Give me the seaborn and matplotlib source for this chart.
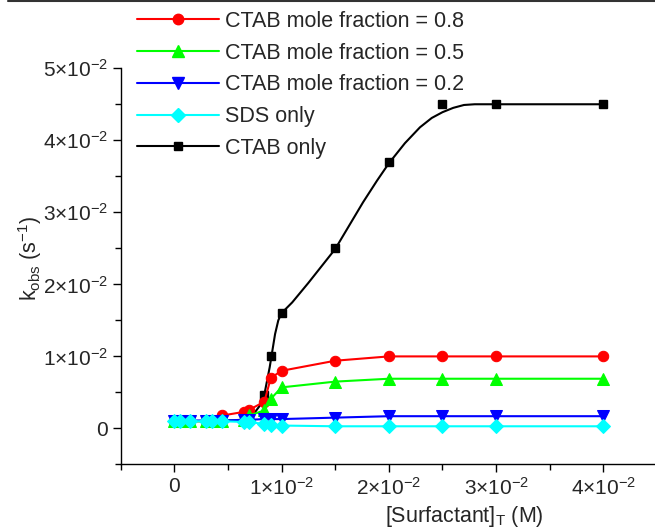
import numpy as np
import pandas as pd
import matplotlib
matplotlib.use('Agg')
import matplotlib.pyplot as plt
import seaborn as sns
from matplotlib.lines import Line2D
from matplotlib.ticker import MultipleLocator, FixedLocator

sns.set_style('ticks')
plt.rcParams['font.family'] = ['Liberation Sans', 'DejaVu Sans']
plt.rcParams['mathtext.default'] = 'regular'

# data
x_pts = [0, 0.0005, 0.0015, 0.003, 0.0035, 0.0045, 0.0065, 0.007,
         0.0084, 0.009, 0.01, 0.015, 0.02, 0.025, 0.03, 0.04]
y_08 = [0.0010, 0.0010, 0.0010, 0.0010, 0.0011, 0.0018, 0.0023, 0.0026,
        0.0037, 0.0070, 0.0080, 0.0094, 0.0100, 0.0100, 0.0100, 0.0100]
y_05 = [0.0010, 0.0010, 0.0010, 0.0010, 0.0010, 0.0011, 0.0012, 0.0018,
        0.0025, 0.0041, 0.0057, 0.0065, 0.0069, 0.0069, 0.0069, 0.0069]
y_02 = [0.0011, 0.0011, 0.0011, 0.0011, 0.0011, 0.0011, 0.0012, 0.0012,
        0.0013, 0.0013, 0.0013, 0.0015, 0.0017, 0.0017, 0.0017, 0.0017]
y_sds = [0.0010, 0.0010, 0.0010, 0.0010, 0.0010, 0.0010, 0.0009, 0.0009,
         0.0006, 0.0005, 0.0004, 0.0003, 0.0003, 0.0003, 0.0003, 0.0003]
y_ctab = [0.0010, 0.0010, 0.0010, 0.0010, 0.0010, 0.0010, 0.0012, 0.0015,
          0.0047, 0.0100, 0.0160, 0.0250, 0.0370, 0.0451, 0.0450, 0.0450]

# fitted curve for CTAB only
x_fit = [0, 0.0065, 0.0072, 0.0080, 0.0084, 0.0089, 0.0094, 0.0097, 0.0100,
         0.0104, 0.0110, 0.0125, 0.015, 0.0176, 0.0189, 0.020, 0.0215, 0.0229,
         0.024, 0.025, 0.026, 0.027, 0.028, 0.030, 0.040]
y_fit = [0.0010, 0.0011, 0.0016, 0.0032, 0.0047, 0.0085, 0.0131, 0.0150, 0.0160,
         0.0166, 0.0175, 0.0202, 0.0249, 0.0314, 0.0344, 0.0368, 0.0396, 0.0418,
         0.0431, 0.0439, 0.0445, 0.0449, 0.0450, 0.0450, 0.0450]

labels = ['CTAB mole fraction = 0.8', 'CTAB mole fraction = 0.5',
          'CTAB mole fraction = 0.2', 'SDS only', 'CTAB only']
colors = ['#ff0000', '#00ff00', '#0000ff', '#00ffff', '#000000']
markers = ['o', '^', 'v', 'D', 's']
msizes = [7.5, 8, 8, 7, 6]

fig = plt.figure(figsize=(6.55, 5.29), dpi=100)
ax = fig.add_axes([0.184, 0.122, 0.816, 0.749])

# CTAB only: curve + markers
sns.lineplot(x=x_fit, y=y_fit, color='black', lw=1.5, sort=False,
             estimator=None, ax=ax, zorder=2)
ax.plot(x_pts, y_ctab, ls='none', marker='s', ms=6, color='black', zorder=2)

series = [y_08, y_05, y_02, y_sds]
for ys, c, m, ms in zip(series, colors[:4], markers[:4], msizes[:4]):
    sns.lineplot(x=x_pts, y=ys, color=c, lw=1.5, marker=m, markersize=ms,
                 markeredgecolor=c, sort=False, estimator=None, ax=ax, zorder=3)

ax.set_xlim(-0.005, 0.0448)
ax.set_ylim(-0.005, 0.05)

xt = [0, 0.01, 0.02, 0.03, 0.04]
ax.xaxis.set_major_locator(FixedLocator(xt))
ax.set_xticklabels(['0'] + ['%d×10$^{−2}$' % i for i in range(1, 5)])
ax.xaxis.set_minor_locator(MultipleLocator(0.005))
yt = [0, 0.01, 0.02, 0.03, 0.04, 0.05]
ax.yaxis.set_major_locator(FixedLocator(yt))
ax.set_yticklabels(['0'] + ['%d×10$^{−2}$' % i for i in range(1, 6)])
ax.yaxis.set_minor_locator(MultipleLocator(0.005))

ax.tick_params(which='major', direction='out', length=6, width=1,
               labelsize=15, pad=3, color='black')
ax.tick_params(which='minor', direction='out', length=4, width=1, color='black')
for s in ['left', 'bottom']:
    ax.spines[s].set_color('black')
    ax.spines[s].set_linewidth(1)
sns.despine(ax=ax)

ax.set_xlabel('[Surfactant]$_T$ (M)', fontsize=15.5)
ax.set_ylabel('k$_{obs}$ (s$^{−1}$)', fontsize=15.5)
ax.xaxis.set_label_coords(0.644, -0.1)
ax.yaxis.set_label_coords(-0.143, 0.52)

handles = [Line2D([0], [0], color=c, lw=1.5, marker=m, ms=ms, markeredgecolor=c)
           for c, m, ms in zip(colors, markers, msizes)]
fig.legend(handles, labels, loc='upper left', bbox_to_anchor=(0.193, 1.0),
           frameon=False, fontsize=15.5, handlelength=3.8, handletextpad=0.3,
           labelspacing=0.5, borderaxespad=0.1)

fig.add_artist(Line2D([0.012, 1], [0.998, 0.998], color='#333333', lw=1.5,
                      transform=fig.transFigure))

fig.savefig('out.png', dpi=100)
